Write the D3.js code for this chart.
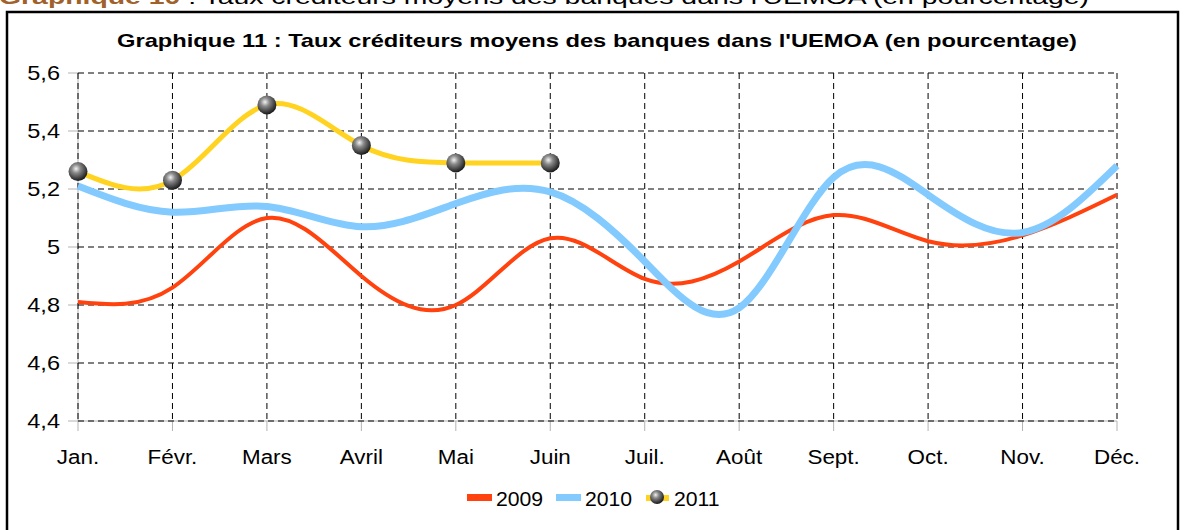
<!DOCTYPE html>
<html>
<head>
<meta charset="utf-8">
<script src="https://cdn.jsdelivr.net/npm/d3@7"></script>
<style>
  body { margin: 0; background: #fff; }
  svg { display: block; font-family: "Liberation Sans", Arial, sans-serif; }
</style>
</head>
<body>
<svg width="1186" height="530"></svg>
<script>
// Month categories and values
const months = ["Jan.", "Févr.", "Mars", "Avril", "Mai", "Juin", "Juil.", "Août", "Sept.", "Oct.", "Nov.", "Déc."];
const values2009 = [4.81, 4.86, 5.10, 4.90, 4.80, 5.03, 4.89, 4.95, 5.11, 5.02, 5.04, 5.18];
const values2010 = [5.21, 5.12, 5.14, 5.07, 5.15, 5.19, 4.95, 4.79, 5.24, 5.18, 5.05, 5.28];
const values2011 = [5.26, 5.23, 5.49, 5.35, 5.29, 5.29];
const yTicks = [4.4, 4.6, 4.8, 5, 5.2, 5.4, 5.6];

const series = [
  { name: "2009", values: values2009, color: "#ff420e", width: 4 },
  { name: "2010", values: values2010, color: "#83caff", width: 7 },
  { name: "2011", values: values2011, color: "#ffd320", width: 5, markers: true }
];

const svg = d3.select("svg");

// The source picture is a bit wider than normal, so texts get stretched sideways
function stretch(sel, k) {
  sel.each(function () {
    const w = this.getComputedTextLength();
    d3.select(this).attr("textLength", w * k).attr("lengthAdjust", "spacingAndGlyphs");
  });
}

// Gradient for the sphere markers
const defs = svg.append("defs");
const grad = defs.append("radialGradient")
  .attr("id", "sphere").attr("cx", "40%").attr("cy", "35%").attr("r", "65%");
grad.append("stop").attr("offset", "0%").attr("stop-color", "#f2f2f2");
grad.append("stop").attr("offset", "35%").attr("stop-color", "#8a8a8a");
grad.append("stop").attr("offset", "100%").attr("stop-color", "#1a1a1a");

// Header line of the page, mostly cut off at the top
const header = svg.append("text").attr("x", -1).attr("y", 4).style("font-size", "21px")
  .attr("textLength", 1090).attr("lengthAdjust", "spacingAndGlyphs");
header.append("tspan").attr("fill", "#a0612a").attr("font-weight", "bold").text("Graphique 10");
header.append("tspan").attr("fill", "#000").text(" : Taux créditeurs moyens des banques dans l'UEMOA (en pourcentage)");

// Frame of the chart
svg.append("rect")
  .attr("x", 7).attr("y", 12).attr("width", 1171).attr("height", 540)
  .attr("fill", "none").attr("stroke", "#000").attr("stroke-width", 2.5);

svg.append("text")
  .attr("x", 597).attr("y", 47)
  .attr("text-anchor", "middle")
  .attr("font-weight", "bold")
  .style("font-size", "19px")
  .attr("textLength", 960).attr("lengthAdjust", "spacingAndGlyphs")
  .text("Graphique 11 : Taux créditeurs  moyens des banques dans l'UEMOA (en pourcentage)");

// Scales
const x = d3.scalePoint().domain(months).range([78, 1117]);
const y = d3.scaleLinear().domain([4.4, 5.6]).range([421, 73]);

// Solid gray axis lines and tick marks
svg.append("line").attr("x1", 78).attr("x2", 78).attr("y1", 73).attr("y2", 421).attr("stroke", "#b3b3b3");
svg.append("line").attr("x1", 78).attr("x2", 1117).attr("y1", 421).attr("y2", 421).attr("stroke", "#b3b3b3");
svg.selectAll("line.ytick").data(yTicks).enter().append("line")
  .attr("x1", 68).attr("x2", 78)
  .attr("y1", d => y(d)).attr("y2", d => y(d))
  .attr("stroke", "#b3b3b3");
svg.selectAll("line.xtick").data(months).enter().append("line")
  .attr("x1", d => x(d)).attr("x2", d => x(d))
  .attr("y1", 421).attr("y2", 431)
  .attr("stroke", "#b3b3b3");

// Dashed grid
svg.selectAll("line.hgrid").data(yTicks).enter().append("line")
  .attr("x1", 78).attr("x2", 1117)
  .attr("y1", d => y(d)).attr("y2", d => y(d))
  .attr("stroke", "#000").attr("stroke-dasharray", "6,4").attr("stroke-width", 1);
svg.selectAll("line.vgrid").data(months).enter().append("line")
  .attr("x1", d => x(d)).attr("x2", d => x(d))
  .attr("y1", 73).attr("y2", 421)
  .attr("stroke", "#000").attr("stroke-dasharray", "6,4").attr("stroke-width", 1);

// Axis labels
svg.selectAll("text.ylab").data(yTicks).enter().append("text")
  .attr("x", 60).attr("y", d => y(d) + 7)
  .attr("text-anchor", "end")
  .style("font-size", "21px")
  .text(d => d3.format("~g")(d).replace(".", ","))
  .call(stretch, 1.12);
svg.selectAll("text.xlab").data(months).enter().append("text")
  .attr("x", d => x(d)).attr("y", 464)
  .attr("text-anchor", "middle")
  .style("font-size", "20px")
  .text(d => d)
  .call(stretch, 1.12);

// Lines
const line = d3.line()
  .x((_d, i) => x(months[i]))
  .y(d => y(d))
  .curve(d3.curveNatural);

svg.selectAll("path.series").data(series).enter().append("path")
  .attr("d", d => line(d.values))
  .attr("fill", "none")
  .attr("stroke", d => d.color)
  .attr("stroke-width", d => d.width)
  .attr("stroke-linecap", "butt");

svg.selectAll("circle.marker").data(values2011).enter().append("circle")
  .attr("cx", (_d, i) => x(months[i]))
  .attr("cy", d => y(d))
  .attr("r", 9.5)
  .attr("fill", "url(#sphere)");

// Legend
const legend = svg.append("g").attr("transform", "translate(467, 498)");
const items = legend.selectAll("g").data(series).enter().append("g")
  .attr("transform", (_d, i) => `translate(${i * 89}, 0)`);
items.append("rect")
  .attr("x", d => d.markers ? 1 : 0).attr("y", d => d.markers ? -3 : -4)
  .attr("width", d => d.markers ? 23 : 25).attr("height", d => d.markers ? 6 : 7)
  .attr("fill", d => d.color);
items.filter(d => d.markers).append("circle")
  .attr("cx", 12).attr("cy", -1).attr("r", 7).attr("fill", "url(#sphere)");
items.append("text")
  .attr("x", 29).attr("y", 8)
  .style("font-size", "20px")
  .text(d => d.name)
  .call(stretch, 1.06);
</script>
</body>
</html>
